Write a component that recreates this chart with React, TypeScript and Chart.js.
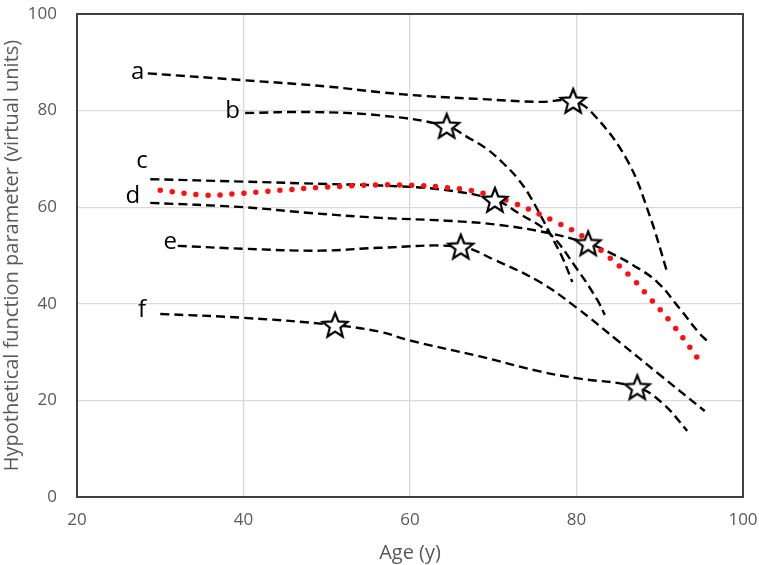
import React, { useEffect, useRef } from 'react';
import { Chart, registerables } from 'chart.js';

Chart.register(...registerables);

// Axis ranges / ticks
const xTicks = [20, 40, 60, 80, 100];
const yTicks = [0, 20, 40, 60, 80, 100];

// Curve a
const aX = [28.5, 40, 50, 56.4, 62, 68.4, 75.6, 79.6, 82, 86.1, 88.8, 90.9];
const aY = [87.7, 86.3, 85, 83.8, 83, 82.4, 81.8, 82, 79.3, 69.7, 58.2, 46.5];
// Curve b
const bX = [40.2, 48, 56.4, 64.4, 67.2, 69.2, 71.2, 72.9, 74.4, 77.2, 78.4, 79.5];
const bY = [79.5, 79.7, 79, 76.8, 74.2, 72.1, 69.1, 66, 62.3, 53.3, 49.2, 44.5];
// Curve c
const cX = [28.8, 40, 50, 56.4, 64, 70.2, 73.2, 76.8, 80.1, 82.5, 83.4];
const cY = [65.8, 65.3, 64.8, 64.5, 63.6, 61.5, 58.6, 54.5, 47.1, 40.8, 37.7];
// Curve d
const dX = [28.8, 40, 48, 56.4, 64.4, 70.4, 76.5, 81.4, 84, 86.8, 89.7, 92.4, 94.8, 95.8];
const dY = [60.9, 60, 58.8, 57.8, 57.2, 56.4, 54.7, 52.5, 50.6, 48, 44.5, 39, 33.8, 32.2];
// Curve e
const eX = [32.1, 40, 49.2, 56.4, 66.1, 70, 75.6, 80, 85, 90, 95.4];
const eY = [52, 51.4, 51, 51.6, 51.8, 49.2, 44.5, 39.2, 32.3, 25.3, 17.8];
// Curve f
const fX = [30, 40, 51, 56.4, 60, 68.4, 75.6, 80, 87.3, 90.4, 93.3];
const fY = [37.9, 37.1, 35.6, 34.2, 32.4, 29.1, 26, 24.6, 22.7, 19.3, 13.7];
// Red dotted curve
const redX = [30, 35.6, 40, 42.8, 51.6, 58.8, 66, 68.8, 72.4, 77.2, 80.7, 83.8, 86.8, 88.8, 91.6, 95];
const redY = [63.5, 62.5, 62.9, 63.3, 64.3, 64.6, 63.8, 62.9, 60.9, 57.2, 54, 49.8, 45.1, 41.2, 35.6, 27.7];
// Star markers
const starX = [79.6, 64.4, 70.2, 81.4, 66.1, 51, 87.3];
const starY = [82, 76.8, 61.5, 52.5, 51.8, 35.6, 22.7];
// Curve labels (data coordinates)
const labelText = ['a', 'b', 'c', 'd', 'e', 'f'];
const labelX = [27.3, 38.7, 27.8, 26.7, 31.2, 27.8];
const labelY = [87.9, 79.9, 69.5, 62.3, 52.7, 38.7];

const toPts = (xs: number[], ys: number[]) => xs.map((x, i) => ({ x, y: ys[i] }));

function makeStar(): HTMLCanvasElement {
  const size = 32;
  const c = document.createElement('canvas');
  c.width = size;
  c.height = size;
  const ctx = c.getContext('2d')!;
  const cx = size / 2;
  const cy = size / 2 + 1;
  const R = 13;
  const r = 5.6;
  ctx.beginPath();
  for (let i = 0; i < 10; i++) {
    const ang = -Math.PI / 2 + (i * Math.PI) / 5;
    const rad = i % 2 === 0 ? R : r;
    const px = cx + rad * Math.cos(ang);
    const py = cy + rad * Math.sin(ang);
    if (i === 0) ctx.moveTo(px, py);
    else ctx.lineTo(px, py);
  }
  ctx.closePath();
  ctx.fillStyle = '#ffffff';
  ctx.fill();
  ctx.lineWidth = 2.2;
  ctx.lineJoin = 'miter';
  ctx.strokeStyle = '#000000';
  ctx.stroke();
  return c;
}

const FONT = "'Open Sans', 'Liberation Sans', sans-serif";

export default function App() {
  const ref = useRef<HTMLCanvasElement | null>(null);

  useEffect(() => {
    if (!ref.current) return;
    const star = makeStar();

    const dashed = (xs: number[], ys: number[]) => ({
      data: toPts(xs, ys),
      showLine: true,
      borderColor: '#000000',
      borderWidth: 2.4,
      borderDash: [9, 5],
      pointRadius: 0,
      fill: false,
      tension: 0.4,
      order: 2,
    });

    const framePlugin = {
      id: 'frame',
      beforeDatasetsDraw(chart: any) {
        const { ctx, chartArea } = chart;
        ctx.save();
        ctx.strokeStyle = '#404040';
        ctx.lineWidth = 2;
        ctx.strokeRect(chartArea.left, chartArea.top, chartArea.right - chartArea.left, chartArea.bottom - chartArea.top);
        ctx.restore();
      },
    };

    const labelPlugin = {
      id: 'curveLabels',
      afterDatasetsDraw(chart: any) {
        const { ctx } = chart;
        const xs = chart.scales.x;
        const ys = chart.scales.y;
        ctx.save();
        ctx.fillStyle = '#000000';
        ctx.font = `24px ${FONT}`;
        ctx.textAlign = 'center';
        ctx.textBaseline = 'middle';
        labelText.forEach((t, i) => {
          ctx.fillText(t, xs.getPixelForValue(labelX[i]), ys.getPixelForValue(labelY[i]));
        });
        ctx.restore();
      },
    };

    const chart = new Chart(ref.current, {
      type: 'scatter',
      data: {
        datasets: [
          {
            data: toPts(starX, starY),
            pointStyle: star as any,
            pointRadius: 13,
            showLine: false,
            order: 0,
          },
          {
            data: toPts(redX, redY),
            showLine: true,
            borderColor: '#ff1010',
            borderWidth: 5.5,
            borderDash: [0, 12],
            borderCapStyle: 'round',
            pointRadius: 0,
            fill: false,
            tension: 0.4,
            order: 1,
          },
          dashed(aX, aY),
          dashed(bX, bY),
          dashed(cX, cY),
          dashed(dX, dY),
          dashed(eX, eY),
          dashed(fX, fY),
        ] as any,
      },
      options: {
        animation: false,
        responsive: false,
        layout: { padding: { left: 0, top: 9, right: 16, bottom: 0 } },
        plugins: {
          legend: { display: false },
          tooltip: { enabled: false },
        },
        scales: {
          x: {
            type: 'linear',
            min: xTicks[0],
            max: xTicks[xTicks.length - 1],
            afterBuildTicks: (s: any) => {
              s.ticks = xTicks.map((v) => ({ value: v }));
            },
            afterFit: (s: any) => {
              s.height = 68;
              s.paddingLeft = 0;
              s.paddingRight = 0;
            },
            ticks: {
              color: '#595959',
              font: { family: FONT, size: 17 },
              padding: 13,
            },
            grid: { color: '#d9d9d9', lineWidth: 1.3, drawTicks: false },
            border: { display: true, color: '#404040', width: 2 },
            title: {
              display: true,
              text: 'Age (y)',
              color: '#595959',
              font: { family: FONT, size: 20 },
              padding: { top: 0, bottom: 0 },
            },
          },
          y: {
            type: 'linear',
            min: yTicks[0],
            max: yTicks[yTicks.length - 1],
            afterBuildTicks: (s: any) => {
              s.ticks = yTicks.map((v) => ({ value: v }));
            },
            afterFit: (s: any) => {
              s.width = 77;
              s.paddingTop = 0;
              s.paddingBottom = 0;
            },
            ticks: {
              color: '#595959',
              font: { family: FONT, size: 17 },
              padding: 20,
            },
            grid: { color: '#d9d9d9', lineWidth: 1.3, drawTicks: false },
            border: { display: true, color: '#404040', width: 2 },
            title: {
              display: true,
              text: 'Hypothetical function parameter (virtual units)',
              color: '#595959',
              font: { family: FONT, size: 20 },
              padding: { top: 0, bottom: 0 },
            },
          },
        },
      } as any,
      plugins: [framePlugin, labelPlugin],
    });

    return () => chart.destroy();
  }, []);

  return (
    <div style={{ position: 'absolute', left: 0, top: 0, width: 759, height: 565, background: '#ffffff' }}>
      <canvas ref={ref} width={759} height={565} style={{ display: 'block' }} />
    </div>
  );
}
